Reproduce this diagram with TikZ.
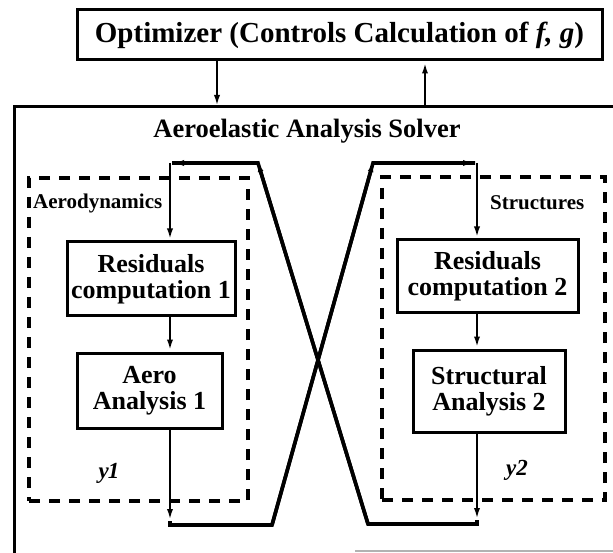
\documentclass[tikz,border=0pt]{standalone}
\usepackage{fontspec}
\setmainfont{Liberation Serif}
\usetikzlibrary{arrows.meta}
\begin{document}
\begin{tikzpicture}[x=1pt,y=-1pt,
  boxst/.style={draw,line width=3pt,inner sep=0pt,align=center,
     font=\fontsize{26}{26}\selectfont\bfseries},
  dbox/.style={draw,line width=3.2pt,dash pattern=on 11pt off 9pt,inner sep=0pt},
  conn/.style={line width=2.8pt},
  diag/.style={line width=3.6pt,line join=miter},
  tip/.style={-{Latex[length=12pt,width=6pt]}},
  stip/.style={-{Latex[length=9pt,width=6pt]}},
  lbl/.style={font=\fontsize{21}{22}\selectfont\bfseries,inner sep=0pt},
  ylbl/.style={font=\fontsize{23}{24}\selectfont\bfseries\itshape,inner sep=0pt}]
\useasboundingbox (0,0) rectangle (613,553);
% outer solver frame (cut off at right and bottom)
\draw[line width=3pt] (613,107) -- (14,107) -- (14,553);
\draw[line width=1.5pt,gray!60] (355,551) -- (613,551);
% optimizer
\node[boxst,minimum width=525pt,minimum height=50pt,font=\fontsize{29}{30}\selectfont\bfseries] (opt) at (339.5,35)
  {Optimizer (Controls Calculation of \textit{f, g})};
\coordinate (dn) at (217,107);
\coordinate (up) at (425,107);
\draw[conn,tip] (dn |- opt.south) -- (dn);
\draw[conn,tip] (up) -- (up |- opt.south);
\node[font=\fontsize{26.5}{27}\selectfont\bfseries,inner sep=0pt] (title) at (307,131) {Aeroelastic Analysis Solver};
% dashed discipline boxes
\node[dbox,minimum width=219pt,minimum height=323pt] (aerobox) at (138.5,339.5) {};
\node[dbox,minimum width=223pt,minimum height=323pt] (strbox) at (493.5,338.5) {};
\node[lbl,anchor=west] (aerol) at (33,203) {Aerodynamics};
\node[lbl,anchor=west] (strl) at (490,203) {Structures};
\node[ylbl] (y1) at (109,473) {y\kern-1pt\textit{1}};
\node[ylbl] (y2) at (517,470) {y2};
% analysis boxes
\node[boxst,minimum width=168pt,minimum height=74pt] (r1) at (151,279) {Residuals\\computation 1};
\node[boxst,minimum width=145pt,minimum height=75pt] (a1) at (149.5,390.5) {Aero\\Analysis 1};
\node[boxst,minimum width=181pt,minimum height=73pt] (r2) at (487.5,276.5) {Residuals\\computation 2};
\node[boxst,minimum width=152pt,minimum height=82pt] (s2) at (489,391) {Structural\\Analysis 2};
% loop coordinates
\coordinate (xl) at (170,0);
\coordinate (xr) at (477,0);
\coordinate (tl) at (170,163);
\coordinate (tlc) at (258,163);
\coordinate (tlm) at (172,163);
\coordinate (trc) at (373,163);
\coordinate (tr) at (477,163);
\coordinate (trm) at (475,163);
\coordinate (bl) at (170,525);
\coordinate (blm) at (170,521);
\coordinate (blc) at (272,525);
\coordinate (brc) at (368,524);
\coordinate (br) at (477,524);
\coordinate (brm) at (477,520);
% inner arrows
\draw[conn,tip] (xl |- r1.south) -- (xl |- a1.north);
\draw[conn,tip] (xr |- r2.south) -- (xr |- s2.north);
% aero output -> structures input
\draw[conn,tip] (xl |- a1.south) -- (blm);
\draw[diag] (blm) -- (bl) -- (blc) -- (trc) -- (trm);
\draw[diag,stip] (blc) -- (trc);
\draw[conn,tip] (trc) -- (trm);
\draw[conn,tip] (tr) -- (xr |- r2.north);
% structures output -> aero input
\draw[conn,tip] (xr |- s2.south) -- (brm);
\draw[diag] (brm) -- (br) -- (brc) -- (tlc) -- (tlm);
\draw[diag,stip] (brc) -- (tlc);
\draw[conn,tip] (tlc) -- (tlm);
\draw[conn,tip] (tl) -- (xl |- r1.north);
\end{tikzpicture}
\end{document}
